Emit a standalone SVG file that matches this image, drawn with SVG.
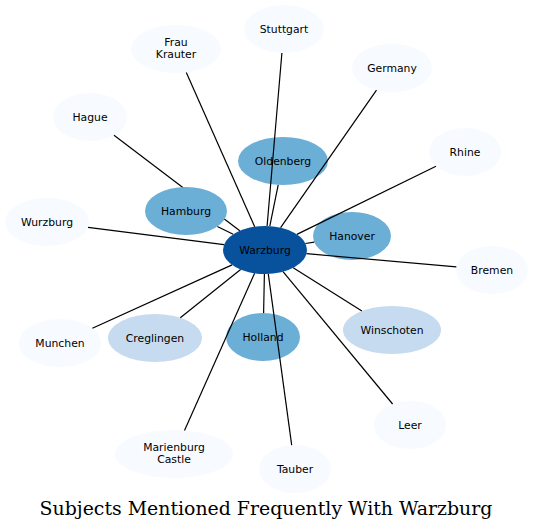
<svg xmlns="http://www.w3.org/2000/svg" width="534" height="530" viewBox="0 0 534 530">
<style>
.n text{font-family:"DejaVu Sans",sans-serif;font-size:10.8px;fill:#000;text-anchor:middle}
.l1{fill:#f7fbff}.l2{fill:#c6dbef}.l3{fill:#6baed6}.l4{fill:#08519c}
#edges line{stroke:#000;stroke-width:1.2}
.title{font-family:"DejaVu Serif",serif;font-size:18.9px;text-anchor:middle;fill:#000}
</style>
<rect width="534" height="530" fill="#fff"/>
<g id="n-warzburg" class="n"><ellipse class="l4" cx="265" cy="250" rx="42" ry="24"/><text x="265" y="254">Warzburg</text></g>
<g id="n-oldenberg" class="n"><ellipse class="l3" cx="283" cy="161" rx="45" ry="24"/><text x="283" y="165">Oldenberg</text></g>
<g id="n-hanover" class="n"><ellipse class="l3" cx="352" cy="236" rx="39" ry="24"/><text x="352" y="240">Hanover</text></g>
<g id="n-holland" class="n"><ellipse class="l3" cx="263" cy="337" rx="37" ry="24"/><text x="263" y="341">Holland</text></g>
<g id="n-creglingen" class="n"><ellipse class="l2" cx="155" cy="338" rx="47" ry="24"/><text x="155" y="342">Creglingen</text></g>
<g id="n-winschoten" class="n"><ellipse class="l2" cx="392" cy="330" rx="49" ry="24"/><text x="392" y="334">Winschoten</text></g>
<g id="n-stuttgart" class="n"><ellipse class="l1" cx="284" cy="29" rx="40" ry="24"/><text x="284" y="33">Stuttgart</text></g>
<g id="n-fraukrauter" class="n"><ellipse class="l1" cx="176" cy="49" rx="45" ry="24"/><text x="176" y="46">Frau</text><text x="176" y="58">Krauter</text></g>
<g id="n-germany" class="n"><ellipse class="l1" cx="392" cy="68" rx="40" ry="24"/><text x="392" y="72">Germany</text></g>
<g id="n-rhine" class="n"><ellipse class="l1" cx="465" cy="152" rx="36" ry="24"/><text x="465" y="156">Rhine</text></g>
<g id="n-hague" class="n"><ellipse class="l1" cx="90" cy="117" rx="37" ry="24"/><text x="90" y="121">Hague</text></g>
<g id="n-wurzburg" class="n"><ellipse class="l1" cx="47" cy="222" rx="42" ry="24"/><text x="47" y="226">Wurzburg</text></g>
<g id="n-bremen" class="n"><ellipse class="l1" cx="492" cy="270" rx="36" ry="24"/><text x="492" y="274">Bremen</text></g>
<g id="n-munchen" class="n"><ellipse class="l1" cx="60" cy="343" rx="41" ry="24"/><text x="60" y="347">Munchen</text></g>
<g id="n-leer" class="n"><ellipse class="l1" cx="410" cy="425" rx="36" ry="24"/><text x="410" y="429">Leer</text></g>
<g id="n-marienburg" class="n"><ellipse class="l1" cx="174" cy="454" rx="59" ry="24"/><text x="174" y="451">Marienburg</text><text x="174" y="463">Castle</text></g>
<g id="n-tauber" class="n"><ellipse class="l1" cx="295" cy="469" rx="36" ry="24"/><text x="295" y="473">Tauber</text></g>
<g id="edges">
<line x1="267.1" y1="226" x2="281.9" y2="53"/>
<line x1="254.7" y1="226.7" x2="186.3" y2="72.4"/>
<line x1="280.6" y1="227.7" x2="376.5" y2="90.1"/>
<line x1="269.8" y1="226.2" x2="278.2" y2="184.9"/>
<line x1="233.2" y1="234.3" x2="217.3" y2="226.5"/>
<line x1="239.8" y1="230.8" x2="114" y2="135.3"/>
<line x1="224" y1="244.7" x2="88" y2="227.3"/>
<line x1="296.9" y1="234.4" x2="436" y2="166.2"/>
<line x1="305.4" y1="243.5" x2="314.3" y2="242.1"/>
<line x1="306.5" y1="253.7" x2="456.3" y2="266.9"/>
<line x1="293.2" y1="267.8" x2="361.9" y2="311.1"/>
<line x1="283" y1="271.7" x2="392.6" y2="404"/>
<line x1="268.3" y1="273.9" x2="291.7" y2="445.1"/>
<line x1="264.4" y1="274" x2="263.6" y2="313"/>
<line x1="254.6" y1="273.3" x2="184.5" y2="430.4"/>
<line x1="240.6" y1="269.5" x2="180.3" y2="317.8"/>
<line x1="232.1" y1="264.9" x2="92.4" y2="328.3"/>
</g>
<g id="n-hamburg" class="n"><ellipse class="l3" cx="186" cy="211" rx="41" ry="24"/><text x="186" y="215">Hamburg</text></g>
<text class="title" x="266" y="515">Subjects Mentioned Frequently With Warzburg</text>
</svg>
